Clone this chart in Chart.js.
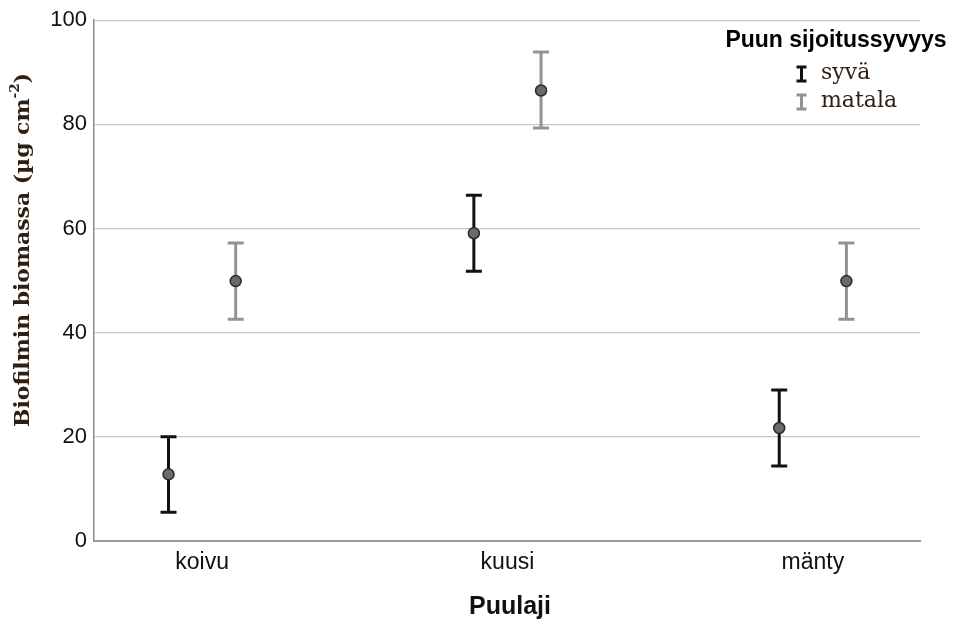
<!DOCTYPE html>
<html>
<head>
<meta charset="utf-8">
<script src="https://cdn.jsdelivr.net/npm/chart.js@4/dist/chart.umd.min.js"></script>
<style>
html,body{margin:0;padding:0;background:#fff;}
#wrap{width:955px;height:624px;position:relative;}
</style>
</head>
<body>
<div id="wrap"><canvas id="c" width="955" height="624"></canvas></div>
<script>
const categories = ['koivu', 'kuusi', 'mänty'];
const seriesNames = ['syvä', 'matala'];
const syvaMean = [12.8, 59.1, 21.7];
const syvaLow = [5.5, 51.8, 14.4];
const syvaHigh = [20.0, 66.4, 29.0];
const matalaMean = [49.9, 86.5, 49.9];
const matalaLow = [42.6, 79.3, 42.6];
const matalaHigh = [57.2, 93.9, 57.2];
const yTicks = [0, 20, 40, 60, 80, 100];
const xTitle = 'Puulaji';
const yTitle = 'Biofilmin biomassa (µg cm';
const yTitleSup = '-2';
const yTitleEnd = ')';
const legendTitle = 'Puun sijoitussyvyys';

const colors = ['#111111', '#939393'];
const offsets = [-0.11, 0.11];
const means = [syvaMean, matalaMean];
const lows = [syvaLow, matalaLow];
const highs = [syvaHigh, matalaHigh];

const datasets = seriesNames.map((name, s) => ({
  label: name,
  data: categories.map((c, i) => ({x: i + offsets[s], y: means[s][i], lo: lows[s][i], hi: highs[s][i]})),
  pointRadius: 5.5,
  pointBackgroundColor: '#6a6a6a',
  pointBorderColor: '#2a2a2a',
  pointBorderWidth: 1.5,
  showLine: false,
  errColor: colors[s]
}));

const errorBars = {
  id: 'errorBars',
  beforeDatasetsDraw(chart) {
    const ctx = chart.ctx, xs = chart.scales.x, ys = chart.scales.y;
    chart.data.datasets.forEach(ds => {
      ctx.save();
      ctx.strokeStyle = ds.errColor;
      ctx.lineWidth = 3;
      ds.data.forEach(p => {
        const x = xs.getPixelForValue(p.x);
        const y1 = ys.getPixelForValue(p.lo), y2 = ys.getPixelForValue(p.hi);
        ctx.beginPath();
        ctx.moveTo(x, y1); ctx.lineTo(x, y2);
        ctx.moveTo(x - 8, y1); ctx.lineTo(x + 8, y1);
        ctx.moveTo(x - 8, y2); ctx.lineTo(x + 8, y2);
        ctx.stroke();
      });
      ctx.restore();
    });
  }
};

const decorations = {
  id: 'decorations',
  afterDraw(chart) {
    const ctx = chart.ctx;
    ctx.save();
    // x title
    ctx.fillStyle = '#111';
    ctx.font = 'bold 25px "Liberation Sans", Arial, sans-serif';
    ctx.textAlign = 'center';
    ctx.textBaseline = 'middle';
    ctx.fillText(xTitle, 510, 607);
    // y title with superscript
    ctx.translate(24, 250);
    ctx.rotate(-Math.PI / 2);
    const mainFont = 'bold 21px "DejaVu Serif", serif';
    const supFont = 'bold 13px "DejaVu Serif", serif';
    ctx.font = mainFont;
    const w1 = ctx.measureText(yTitle).width;
    const w3 = ctx.measureText(yTitleEnd).width;
    ctx.font = supFont;
    const w2 = ctx.measureText(yTitleSup).width;
    const total = w1 + w2 + w3;
    const scaleX = 354 / total;
    ctx.scale(Math.min(scaleX, 1.15), 1);
    let x0 = -total / 2;
    ctx.fillStyle = '#2e1f12';
    ctx.textAlign = 'left';
    ctx.textBaseline = 'middle';
    ctx.font = mainFont;
    ctx.fillText(yTitle, x0, 0);
    ctx.font = supFont;
    ctx.fillText(yTitleSup, x0 + w1, -8);
    ctx.font = mainFont;
    ctx.fillText(yTitleEnd, x0 + w1 + w2, 0);
    ctx.restore();

    // legend
    ctx.save();
    ctx.fillStyle = '#000';
    ctx.font = 'bold 23px "Liberation Sans", Arial, sans-serif';
    ctx.textAlign = 'center';
    ctx.textBaseline = 'middle';
    ctx.fillText(legendTitle, 836, 41);
    seriesNames.forEach((name, s) => {
      const cy = 74 + s * 28;
      ctx.strokeStyle = colors[s];
      ctx.lineWidth = 3;
      ctx.beginPath();
      ctx.moveTo(801.5, cy - 7); ctx.lineTo(801.5, cy + 7);
      ctx.moveTo(796.5, cy - 7); ctx.lineTo(806.5, cy - 7);
      ctx.moveTo(796.5, cy + 7); ctx.lineTo(806.5, cy + 7);
      ctx.stroke();
      ctx.fillStyle = '#2e1f12';
      ctx.font = '22px "DejaVu Serif", serif';
      ctx.textAlign = 'left';
      ctx.fillText(name, 821, cy - 1);
    });
    ctx.restore();
  }
};

new Chart(document.getElementById('c'), {
  type: 'scatter',
  data: {datasets},
  options: {
    responsive: false,
    animation: false,
    layout: {padding: {left: 0, top: 20, right: 35, bottom: 0}},
    plugins: {legend: {display: false}, tooltip: {enabled: false}},
    scales: {
      x: {
        type: 'linear',
        min: -0.354,
        max: 2.351,
        afterBuildTicks(scale) { scale.ticks = categories.map((c, i) => ({value: i})); },
        afterFit(scale) { scale.height = 83; },
        ticks: {
          callback: (v) => categories[v] !== undefined ? categories[v] : '',
          font: {family: '"Liberation Sans", Arial, sans-serif', size: 23},
          color: '#111',
          padding: 8,
          maxRotation: 0,
          autoSkip: false
        },
        grid: {display: false, drawTicks: false},
        border: {display: true, color: '#999999', width: 2}
      },
      y: {
        min: 0,
        max: 100,
        afterBuildTicks(scale) { scale.ticks = yTicks.map(v => ({value: v})); },
        afterFit(scale) { scale.width = 94; },
        ticks: {
          font: {family: '"Liberation Sans", Arial, sans-serif', size: 22},
          color: '#111',
          padding: 7
        },
        grid: {color: '#c8c8c8', lineWidth: 1.2, drawTicks: false},
        border: {display: true, color: '#8c8c8c', width: 1.5}
      }
    }
  },
  plugins: [errorBars, decorations]
});
</script>
</body>
</html>
